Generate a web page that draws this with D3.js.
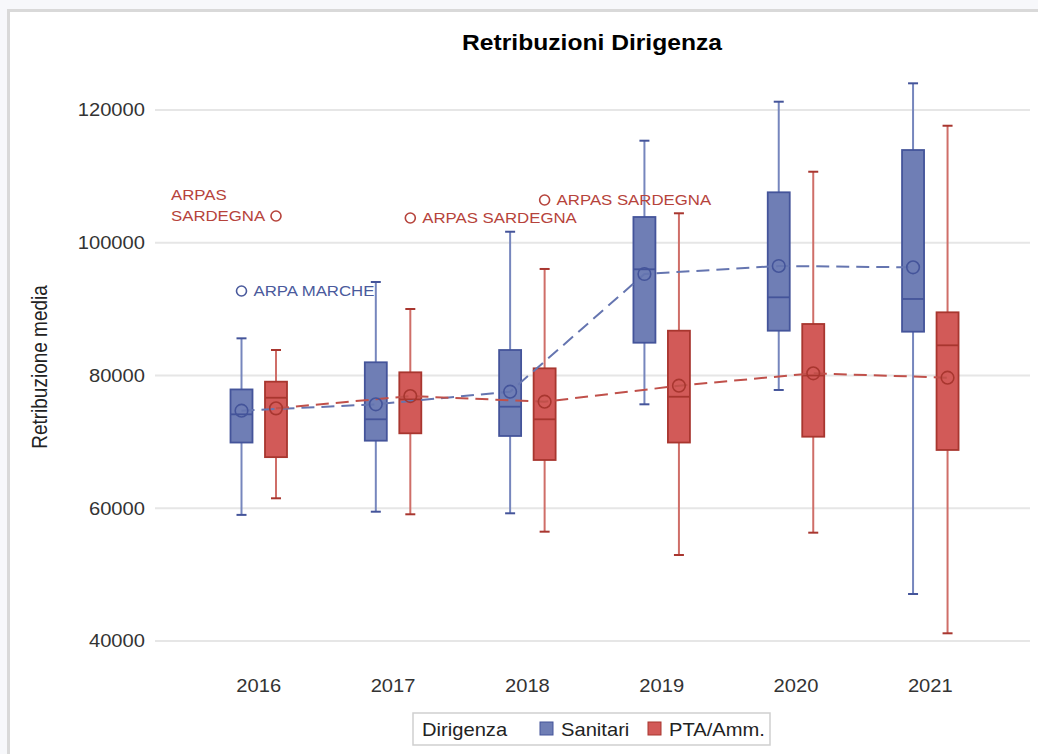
<!DOCTYPE html>
<html>
<head>
<meta charset="utf-8">
<script src="https://cdn.jsdelivr.net/npm/d3@7"></script>
<style>
  html, body { margin: 0; padding: 0; background: #f7f8fb; }
  svg { display: block; font-family: "Liberation Sans", Arial, sans-serif; }
</style>
</head>
<body>
<svg id="chart" width="1038" height="754"></svg>
<script>
// Categories and series (annual distribution of average pay)
const years = ["2016", "2017", "2018", "2019", "2020", "2021"];
const groups = ["Sanitari", "PTA/Amm."];

const sanMin  = [59000, 59480, 59240, 75660, 77820, 47080];
const sanQ1   = [69900, 70180, 70890, 84940, 86750, 86600];
const sanMed  = [74150, 73400, 75300, 96000, 91780, 91530];
const sanQ3   = [77900, 81990, 83840, 103880, 107600, 113970];
const sanMax  = [85600, 94090, 101660, 115375, 121250, 124020];
const sanMean = [74700, 75660, 77560, 95290, 96500, 96300];

const ptaMin  = [61500, 59090, 56470, 52960, 56320, 41160];
const ptaQ1   = [67700, 71290, 67270, 69900, 70780, 68780];
const ptaMed  = [76650, 76400, 73400, 76800, 80000, 84550];
const ptaQ3   = [79070, 80480, 81080, 86750, 87760, 89520];
const ptaMax  = [83840, 90020, 96050, 104440, 110700, 117630];
const ptaMean = [75050, 76900, 76050, 78460, 80330, 79670];

// Outliers with their labels
const outYear  = ["2016", "2016", "2017", "2018"];
const outGroup = ["Sanitari", "PTA/Amm.", "PTA/Amm.", "PTA/Amm."];
const outValue = [92730, 104030, 103730, 106440];
const outLabel = ["ARPA MARCHE", "ARPAS SARDEGNA", "ARPAS SARDEGNA", "ARPAS SARDEGNA"];
const outWrapLeft = [false, true, false, false];

const yTicks = [40000, 60000, 80000, 100000, 120000];

// Styling
const SX = 1.12; // horizontal text stretch
const style = {
  "Sanitari":  { fill: "#6f7eb5", edge: "#44549a", whisk: "#7686bd", line: "#6575b0", text: "#4a5a9c" },
  "PTA/Amm.":  { fill: "#d25a58", edge: "#a8362f", whisk: "#cf6e68", line: "#c0504a", text: "#b6433b" }
};

const svg = d3.select("#chart");
const W = 1038, H = 754;

// page frame
svg.append("rect").attr("x", 0).attr("y", 0).attr("width", W).attr("height", H).attr("fill", "#f7f8fb");
svg.append("rect").attr("x", 9).attr("y", 11).attr("width", W - 9).attr("height", H - 11).attr("fill", "#ffffff");
svg.append("line").attr("x1", 7).attr("x2", W).attr("y1", 10.5).attr("y2", 10.5).attr("stroke", "#d9d9d9").attr("stroke-width", 3);
svg.append("line").attr("x1", 8.5).attr("x2", 8.5).attr("y1", 9).attr("y2", H).attr("stroke", "#d9d9d9").attr("stroke-width", 3);

// Scales
const plotLeft = 155, plotRight = 1030;
const y = d3.scaleLinear().domain([40000, 120000]).range([641, 110]);
const x = d3.scalePoint().domain(years).range([258.75, 930.3]);
const sub = d3.scalePoint().domain(groups).range([-17.25, 17.25]);
const boxW = 22;

function stretchedText(parent, px, py, str) {
  return parent.append("text")
    .attr("transform", `translate(${px},${py}) scale(${SX},1)`)
    .text(str);
}

// gridlines
svg.append("g").selectAll("line").data(yTicks).join("line")
  .attr("x1", plotLeft).attr("x2", plotRight)
  .attr("y1", d => y(d)).attr("y2", d => y(d))
  .attr("stroke", "#e6e6e6").attr("stroke-width", 2);

// y tick labels
const yAxis = svg.append("g").attr("font-size", 18).attr("fill", "#333").attr("text-anchor", "end");
yTicks.forEach(t => {
  stretchedText(yAxis, 145, y(t), String(t)).attr("dy", "0.35em");
});

// x tick labels
const xAxis = svg.append("g").attr("font-size", 18).attr("fill", "#333").attr("text-anchor", "middle");
years.forEach(yr => stretchedText(xAxis, x(yr), 692, yr));

// title
stretchedText(svg, 592, 50, "Retribuzioni Dirigenza")
  .attr("font-size", 22).attr("font-weight", "bold").attr("text-anchor", "middle").attr("fill", "#000");

// y axis title
svg.append("text")
  .attr("transform", `translate(47,367) scale(${SX},1) rotate(-90)`)
  .attr("text-anchor", "middle").attr("font-size", 19).attr("fill", "#222")
  .text("Retribuzione media");

// Box data
const series = {
  "Sanitari": years.map((yr, i) => ({ year: yr, min: sanMin[i], q1: sanQ1[i], med: sanMed[i], q3: sanQ3[i], max: sanMax[i], mean: sanMean[i] })),
  "PTA/Amm.": years.map((yr, i) => ({ year: yr, min: ptaMin[i], q1: ptaQ1[i], med: ptaMed[i], q3: ptaQ3[i], max: ptaMax[i], mean: ptaMean[i] }))
};

const boxes = svg.append("g");
groups.forEach(g => {
  const s = style[g];
  const gg = boxes.append("g");
  series[g].forEach(d => {
    const cx = x(d.year) + sub(g);
    // whiskers
    gg.append("line").attr("x1", cx).attr("x2", cx).attr("y1", y(d.max)).attr("y2", y(d.q3))
      .attr("stroke", s.whisk).attr("stroke-width", 2);
    gg.append("line").attr("x1", cx).attr("x2", cx).attr("y1", y(d.q1)).attr("y2", y(d.min))
      .attr("stroke", s.whisk).attr("stroke-width", 2);
    // caps
    [d.max, d.min].forEach(v => {
      gg.append("line").attr("x1", cx - 5).attr("x2", cx + 5).attr("y1", y(v)).attr("y2", y(v))
        .attr("stroke", s.edge).attr("stroke-width", 2);
    });
    // box
    gg.append("rect").attr("x", cx - boxW / 2).attr("width", boxW)
      .attr("y", y(d.q3)).attr("height", y(d.q1) - y(d.q3))
      .attr("fill", s.fill).attr("stroke", s.edge).attr("stroke-width", 1.8);
    // median
    gg.append("line").attr("x1", cx - boxW / 2).attr("x2", cx + boxW / 2).attr("y1", y(d.med)).attr("y2", y(d.med))
      .attr("stroke", s.edge).attr("stroke-width", 1.8);
  });
});

// mean connect lines
groups.forEach(g => {
  const s = style[g];
  const line = d3.line().x(d => x(d.year) + sub(g)).y(d => y(d.mean));
  svg.append("path").datum(series[g]).attr("d", line)
    .attr("fill", "none").attr("stroke", s.line).attr("stroke-width", 2).attr("stroke-dasharray", "13,7");
});

// mean markers
groups.forEach(g => {
  const s = style[g];
  svg.append("g").selectAll("circle").data(series[g]).join("circle")
    .attr("cx", d => x(d.year) + sub(g)).attr("cy", d => y(d.mean)).attr("r", 6.3)
    .attr("fill", "none").attr("stroke", s.edge).attr("stroke-width", 1.6);
});

// outliers
const outG = svg.append("g").attr("font-size", 15);
outYear.forEach((yr, i) => {
  const g = outGroup[i], s = style[g];
  const cx = x(yr) + sub(g), cy = y(outValue[i]);
  outG.append("circle").attr("cx", cx).attr("cy", cy).attr("r", 5)
    .attr("fill", "none").attr("stroke", s.text).attr("stroke-width", 1.6);
  if (outWrapLeft[i]) {
    const words = outLabel[i].split(" ");
    const t = stretchedText(outG, cx - 105, cy, "").attr("fill", s.text);
    t.append("tspan").attr("x", 0).attr("dy", "-1.05em").text(words[0]);
    t.append("tspan").attr("x", 0).attr("dy", "1.4em").text(words[1]);
  } else {
    stretchedText(outG, cx + 12, cy, outLabel[i]).attr("dy", "0.36em").attr("fill", s.text);
  }
});

// legend
const lg = svg.append("g");
lg.append("rect").attr("x", 413).attr("y", 713).attr("width", 357).attr("height", 32)
  .attr("fill", "#fff").attr("stroke", "#cfcfcf").attr("stroke-width", 1.5);
stretchedText(lg, 422, 736, "Dirigenza").attr("font-size", 18).attr("fill", "#222");
const legendX = { "Sanitari": 540, "PTA/Amm.": 648 };
groups.forEach(g => {
  const s = style[g];
  lg.append("rect").attr("x", legendX[g]).attr("y", 722).attr("width", 13).attr("height", 13)
    .attr("fill", s.fill).attr("stroke", s.edge).attr("stroke-width", 1);
  stretchedText(lg, legendX[g] + 21, 736, g).attr("font-size", 18).attr("fill", "#222");
});
</script>
</body>
</html>
